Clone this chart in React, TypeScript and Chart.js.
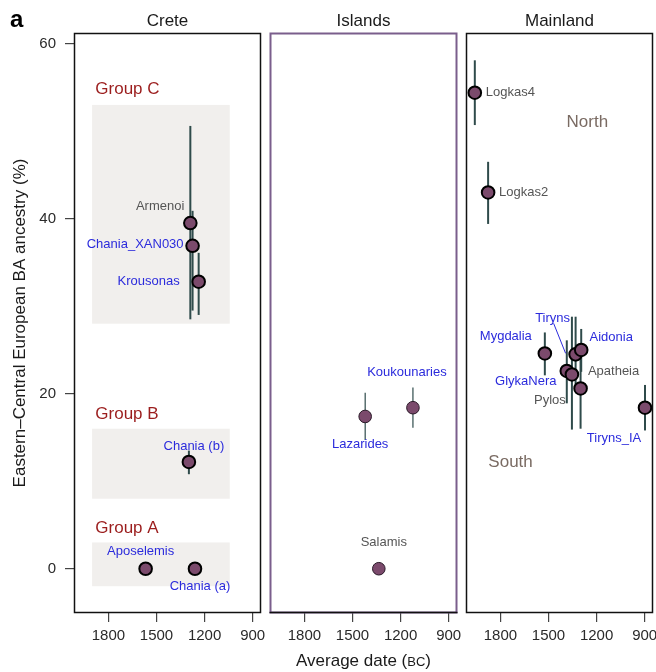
import { useEffect, useRef } from 'react';
import { Chart, registerables } from 'chart.js';

Chart.register(...registerables);

// ---------- data ----------
const PANEL_TITLES = ['Crete', 'Islands', 'Mainland'];
const X_TICKS = [1800, 1500, 1200, 900];
const Y_TICKS = [0, 20, 40, 60];

const CRETE_SITES = ['Armenoi', 'Chania_XAN030', 'Krousonas', 'Chania (b)', 'Aposelemis', 'Chania (a)'];
const CRETE_DATES = [1289, 1275, 1237, 1298, 1568, 1260];
const CRETE_ANCESTRY = [39.5, 36.9, 32.8, 12.2, 0, 0];
const CRETE_LOW = [28.5, 29.5, 29.0, 10.8, null, null];
const CRETE_HIGH = [50.6, 40.9, 36.1, 13.5, null, null];
const CRETE_GRAY = [true, false, false, false, false, false];

const ISLANDS_SITES = ['Lazarides', 'Koukounaries', 'Salamis'];
const ISLANDS_DATES = [1421, 1123, 1336];
const ISLANDS_ANCESTRY = [17.4, 18.4, 0];
const ISLANDS_LOW = [14.7, 16.1, null];
const ISLANDS_HIGH = [20.1, 20.7, null];
const ISLANDS_GRAY = [false, false, true];

const MAINLAND_SITES = ['Logkas4', 'Logkas2', 'Mygdalia', 'GlykaNera', 'Pylos', 'Tiryns', 'Aidonia', 'Apatheia', 'Tiryns_IA'];
const MAINLAND_DATES = [1960, 1877, 1523, 1386, 1354, 1331, 1296, 1300, 898];
const MAINLAND_ANCESTRY = [54.4, 43.0, 24.6, 22.6, 22.2, 24.5, 25.0, 20.6, 18.4];
const MAINLAND_LOW = [50.7, 39.4, 22.1, 18.9, 15.9, 20.4, 22.5, 16.0, 15.8];
const MAINLAND_HIGH = [58.1, 46.5, 27.0, 26.1, 28.8, 28.8, 27.4, 24.0, 21.0];
const MAINLAND_GRAY = [true, true, false, false, true, false, false, true, false];

const GROUP_NAMES = ['Group C', 'Group B', 'Group A'];
const GROUP_LOW = [28, 8, -2];
const GROUP_HIGH = [53, 16, 3];
const GROUP_FROM = 1902;
const GROUP_TO = 1043;
const GROUP_LABEL_X = 1882;
const GROUP_LABEL_Y = [54.8, 17.6, 4.6];

const REGION_NAMES = ['North', 'South'];
const REGION_X = [1258, 1737];
const REGION_Y = [51.0, 12.2];

// ---------- layout / style (not data) ----------
const W = 656;
const H = 672;
const PANEL_TOP = 33;
const PANEL_BOTTOM = 613;
const PANEL_LEFT = [74, 270, 466];
const PANEL_WIDTH = 187;
const X_MIN = 848;
const X_MAX = 2015;
const Y_MIN = -5.06;
const Y_MAX = 61.22;
const FONT = "'Liberation Sans', Arial, sans-serif";
const POINT_FILL = '#7b4a6c';
const BAR_COLOR = '#2f4b4b';
const BLUE = '#2b2bdc';
const GRAY = '#555555';
const DARK_RED = '#9b1d1d';
const REGION_COLOR = '#7a6b63';
const BOX_FILL = '#f1efed';
const TICK_COLOR = '#444';

type Place = [number, number, CanvasTextAlign];
const CRETE_PLACE: Place[] = [
  [-6, -17, 'right'],
  [-9, -1, 'right'],
  [-19, 0, 'right'],
  [5, -16, 'center'],
  [-5, -17, 'center'],
  [5, 18, 'center'],
];
const ISLANDS_PLACE: Place[] = [
  [-5, 28, 'center'],
  [-6, -35, 'center'],
  [5, -26, 'center'],
];
const MAINLAND_PLACE: Place[] = [
  [11, 0, 'left'],
  [11, 0, 'left'],
  [-39, -17, 'center'],
  [-41, 10, 'center'],
  [-22, 26, 'center'],
  [-23, -36, 'center'],
  [30, -13, 'center'],
  [33, -17, 'center'],
  [-31, 31, 'center'],
];
const MAINLAND_LEADER: Record<number, [number, number, number, number]> = {
  5: [-22, -31, -10, -1],
};

interface Panel {
  index: number;
  sites: string[];
  dates: number[];
  ancestry: number[];
  low: (number | null)[];
  high: (number | null)[];
  gray: boolean[];
  place: Place[];
  leader: Record<number, [number, number, number, number]>;
  frameColor: string;
  frameWidth: number;
  pointBorder: string;
  pointBorderWidth: number;
  barWidth: number;
}

const PANELS: Panel[] = [
  {
    index: 0, sites: CRETE_SITES, dates: CRETE_DATES, ancestry: CRETE_ANCESTRY,
    low: CRETE_LOW, high: CRETE_HIGH, gray: CRETE_GRAY, place: CRETE_PLACE, leader: {},
    frameColor: '#111', frameWidth: 1.5, pointBorder: '#000', pointBorderWidth: 2, barWidth: 2,
  },
  {
    index: 1, sites: ISLANDS_SITES, dates: ISLANDS_DATES, ancestry: ISLANDS_ANCESTRY,
    low: ISLANDS_LOW, high: ISLANDS_HIGH, gray: ISLANDS_GRAY, place: ISLANDS_PLACE, leader: {},
    frameColor: '#7a5e8c', frameWidth: 2, pointBorder: '#2a1a28', pointBorderWidth: 1, barWidth: 1.2,
  },
  {
    index: 2, sites: MAINLAND_SITES, dates: MAINLAND_DATES, ancestry: MAINLAND_ANCESTRY,
    low: MAINLAND_LOW, high: MAINLAND_HIGH, gray: MAINLAND_GRAY, place: MAINLAND_PLACE, leader: MAINLAND_LEADER,
    frameColor: '#111', frameWidth: 1.5, pointBorder: '#000', pointBorderWidth: 2, barWidth: 2,
  },
];

function panelPlugin(p: Panel) {
  return {
    id: 'panelDecor' + p.index,
    beforeDatasetsDraw(chart: any) {
      const ctx = chart.ctx;
      const xs = chart.scales.x;
      const ys = chart.scales.y;
      ctx.save();
      if (p.index === 0) {
        ctx.fillStyle = BOX_FILL;
        for (let g = 0; g < GROUP_NAMES.length; g++) {
          const x1 = xs.getPixelForValue(GROUP_FROM);
          const x2 = xs.getPixelForValue(GROUP_TO);
          const y1 = ys.getPixelForValue(GROUP_HIGH[g]);
          const y2 = ys.getPixelForValue(GROUP_LOW[g]);
          ctx.fillRect(x1, y1, x2 - x1, y2 - y1);
        }
      }
      ctx.strokeStyle = BAR_COLOR;
      ctx.lineWidth = p.barWidth;
      for (let i = 0; i < p.dates.length; i++) {
        const lo = p.low[i];
        const hi = p.high[i];
        if (lo == null || hi == null) continue;
        const x = xs.getPixelForValue(p.dates[i]);
        ctx.beginPath();
        ctx.moveTo(x, ys.getPixelForValue(lo));
        ctx.lineTo(x, ys.getPixelForValue(hi));
        ctx.stroke();
      }
      ctx.restore();
    },
    afterDraw(chart: any) {
      const ctx = chart.ctx;
      const xs = chart.scales.x;
      const ys = chart.scales.y;
      const a = chart.chartArea;
      ctx.save();
      // frame
      const l = Math.round(a.left) + 0.5;
      const r = Math.round(a.right) - 0.5;
      const t = Math.round(a.top) + 0.5;
      const b = Math.round(a.bottom) - 0.5;
      ctx.strokeStyle = p.frameColor;
      ctx.lineWidth = p.frameWidth;
      ctx.strokeRect(l, t, r - l, b - t);
      if (p.index === 1) {
        ctx.strokeStyle = '#111';
        ctx.lineWidth = 1.5;
        ctx.beginPath();
        ctx.moveTo(l - 1, b);
        ctx.lineTo(r + 1, b);
        ctx.stroke();
      }
      // panel title
      ctx.fillStyle = '#1a1a1a';
      ctx.font = `17px ${FONT}`;
      ctx.textAlign = 'center';
      ctx.textBaseline = 'middle';
      ctx.fillText(PANEL_TITLES[p.index], (a.left + a.right) / 2, 21);
      // point labels
      ctx.font = `13px ${FONT}`;
      for (let i = 0; i < p.sites.length; i++) {
        const px = xs.getPixelForValue(p.dates[i]);
        const py = ys.getPixelForValue(p.ancestry[i]);
        const [dx, dy, align] = p.place[i];
        ctx.fillStyle = p.gray[i] ? GRAY : BLUE;
        ctx.textAlign = align;
        ctx.fillText(p.sites[i], px + dx, py + dy);
        const ld = p.leader[i];
        if (ld) {
          ctx.strokeStyle = BLUE;
          ctx.lineWidth = 1;
          ctx.beginPath();
          ctx.moveTo(px + ld[0], py + ld[1]);
          ctx.lineTo(px + ld[2], py + ld[3]);
          ctx.stroke();
        }
      }
      if (p.index === 0) {
        ctx.font = `17px ${FONT}`;
        ctx.fillStyle = DARK_RED;
        ctx.textAlign = 'left';
        for (let g = 0; g < GROUP_NAMES.length; g++) {
          ctx.fillText(GROUP_NAMES[g], xs.getPixelForValue(GROUP_LABEL_X), ys.getPixelForValue(GROUP_LABEL_Y[g]));
        }
        // panel letter
        ctx.fillStyle = '#000';
        ctx.font = `bold 24px ${FONT}`;
        ctx.textAlign = 'left';
        ctx.textBaseline = 'alphabetic';
        ctx.fillText('a', 10, 27);
        // y-axis title
        ctx.save();
        ctx.translate(20, (PANEL_TOP + PANEL_BOTTOM) / 2);
        ctx.rotate(-Math.PI / 2);
        ctx.font = `17px ${FONT}`;
        ctx.fillStyle = '#1a1a1a';
        ctx.textAlign = 'center';
        ctx.textBaseline = 'middle';
        ctx.fillText('Eastern\u2013Central European BA ancestry (%)', 0, 0);
        ctx.restore();
        // x-axis title with small caps BC
        const cx = (PANEL_LEFT[0] + PANEL_LEFT[2] + PANEL_WIDTH) / 2;
        const cy = 660;
        const big = `17px ${FONT}`;
        const small = `13px ${FONT}`;
        const parts: [string, string][] = [['Average date (', big], ['BC', small], [')', big]];
        let total = 0;
        for (const [tx, f] of parts) { ctx.font = f; total += ctx.measureText(tx).width; }
        let x = cx - total / 2;
        ctx.fillStyle = '#1a1a1a';
        ctx.textAlign = 'left';
        ctx.textBaseline = 'alphabetic';
        for (const [tx, f] of parts) {
          ctx.font = f;
          ctx.fillText(tx, x, cy + 6);
          x += ctx.measureText(tx).width;
        }
      }
      if (p.index === 2) {
        ctx.font = `17px ${FONT}`;
        ctx.fillStyle = REGION_COLOR;
        ctx.textAlign = 'center';
        ctx.textBaseline = 'middle';
        for (let k = 0; k < REGION_NAMES.length; k++) {
          ctx.fillText(REGION_NAMES[k], xs.getPixelForValue(REGION_X[k]), ys.getPixelForValue(REGION_Y[k]));
        }
      }
      ctx.restore();
    },
  };
}

function makeConfig(p: Panel): any {
  const left = PANEL_LEFT[p.index];
  const right = left + PANEL_WIDTH;
  const first = p.index === 0;
  return {
    type: 'scatter',
    data: {
      datasets: [
        {
          data: p.dates.map((d, i) => ({ x: d, y: p.ancestry[i] })),
          pointRadius: 6.3,
          pointHoverRadius: 6.3,
          backgroundColor: POINT_FILL,
          borderColor: p.pointBorder,
          borderWidth: p.pointBorderWidth,
          clip: false,
        },
      ],
    },
    options: {
      responsive: false,
      animation: false,
      events: [],
      layout: { autoPadding: false, padding: { left: first ? 0 : left, right: W - right, top: PANEL_TOP, bottom: 0 } },
      plugins: { legend: { display: false }, tooltip: { enabled: false } },
      scales: {
        x: {
          type: 'linear',
          min: X_MIN,
          max: X_MAX,
          reverse: true,
          afterBuildTicks: (s: any) => { s.ticks = X_TICKS.map((v) => ({ value: v })); },
          afterFit: (s: any) => { s.height = H - PANEL_BOTTOM; s.paddingLeft = 0; s.paddingRight = 0; },
          grid: { drawOnChartArea: false, drawTicks: true, tickLength: 9, color: TICK_COLOR, lineWidth: 1.2 },
          border: { display: false },
          ticks: {
            color: '#2a2a2a', font: { family: FONT, size: 15 }, padding: 5, maxRotation: 0, autoSkip: false,
            callback: (v: number) => String(v),
          },
        },
        y: {
          type: 'linear',
          display: first,
          min: Y_MIN,
          max: Y_MAX,
          afterBuildTicks: (s: any) => { s.ticks = Y_TICKS.map((v) => ({ value: v })); },
          afterFit: (s: any) => { s.width = first ? left : 0; s.paddingTop = 0; s.paddingBottom = 0; },
          grid: { drawOnChartArea: false, drawTicks: true, tickLength: 9, color: TICK_COLOR, lineWidth: 1.2 },
          border: { display: false },
          ticks: { color: '#2a2a2a', font: { family: FONT, size: 15 }, padding: 9, callback: (v: number) => String(v) },
        },
      },
    },
    plugins: [panelPlugin(p)],
  };
}

function PanelCanvas({ panel }: { panel: Panel }) {
  const ref = useRef<HTMLCanvasElement | null>(null);
  useEffect(() => {
    if (!ref.current) return;
    const chart = new Chart(ref.current, makeConfig(panel));
    return () => chart.destroy();
  }, [panel]);
  return (
    <canvas
      ref={ref}
      width={W}
      height={H}
      style={{ position: 'absolute', left: 0, top: 0, width: W, height: H }}
    />
  );
}

export default function App() {
  return (
    <div style={{ position: 'fixed', left: 0, top: 0, width: W, height: H, background: '#fff' }}>
      {PANELS.map((p) => (
        <PanelCanvas key={p.index} panel={p} />
      ))}
    </div>
  );
}
